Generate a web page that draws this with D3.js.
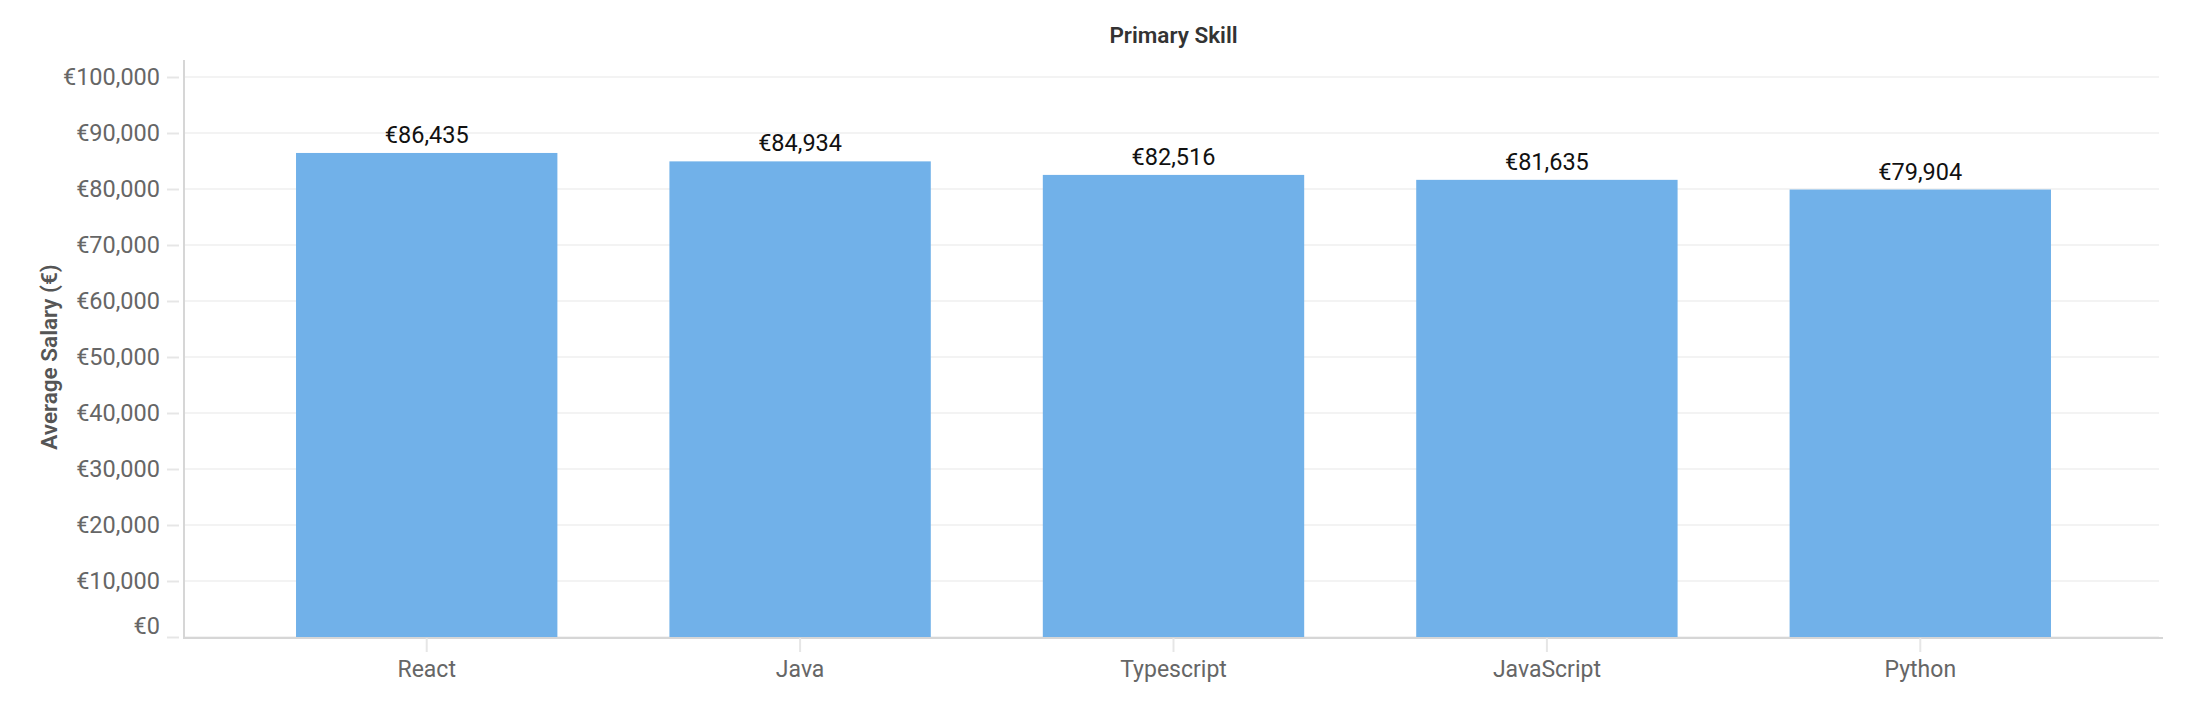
<!DOCTYPE html>
<html>
<head>
<meta charset="utf-8">
<script src="https://cdn.jsdelivr.net/npm/d3@7"></script>
<style>
 body { margin:0; background:#fff; }
 text { font-family: Roboto, "Noto Sans", sans-serif; }
</style>
</head>
<body>
<div id="chart"></div>
<script>
// chart data
var skills = ["React", "Java", "Typescript", "JavaScript", "Python"];
var salaries = [86435, 84934, 82516, 81635, 79904];
var yTicks = [0, 10000, 20000, 30000, 40000, 50000, 60000, 70000, 80000, 90000, 100000];

var W = 2186, H = 718;
var plotLeft = 184, plotRight = 2163, plotTop = 77, plotBottom = 637;
var euro = function(v){ return "€" + d3.format(",")(v); };

var svg = d3.select("#chart").append("svg")
 .attr("width", W).attr("height", H);

var x = d3.scaleBand().domain(skills).range([plotLeft, plotRight]).padding(0.3);
var y = d3.scaleLinear().domain([0, 100000]).range([plotBottom, plotTop]);

// gridlines
svg.append("g").selectAll("line")
 .data(yTicks).enter().append("line")
 .attr("x1", plotLeft).attr("x2", plotRight - 4)
 .attr("y1", function(d){ return y(d); })
 .attr("y2", function(d){ return y(d); })
 .attr("stroke", "#f3f3f3").attr("stroke-width", 2);

// y axis
var yAxis = svg.append("g")
 .attr("transform", "translate(" + (plotLeft - 5) + ",0)")
 .call(d3.axisLeft(y).tickValues(yTicks).tickFormat(euro).tickSize(12).tickPadding(7));
yAxis.select(".domain").remove();
yAxis.selectAll(".tick line").attr("stroke", "#e6e6e6").attr("stroke-width", 2);
yAxis.selectAll(".tick text")
 .attr("fill", "#666").style("font-size", "23.5px")
 .attr("dy", function(d){ return d === 0 ? "-0.15em" : "0.32em"; }); // bottom label sits a bit higher

svg.append("line")			//y axis line
 .attr("x1", plotLeft).attr("x2", plotLeft)
 .attr("y1", 60).attr("y2", plotBottom + 2)
 .attr("stroke", "#d6d6d6").attr("stroke-width", 2);

// bars
svg.append("g").selectAll("rect")
 .data(skills).enter().append("rect")
 .attr("x", function(d){ return x(d); })
 .attr("width", x.bandwidth())
 .attr("y", function(d,i){ return y(salaries[i]); })
 .attr("height", function(d,i){ return y(0) - y(salaries[i]); })
 .attr("fill", "#71b1e9");

// value labels
svg.append("g").selectAll("text")
 .data(skills).enter().append("text")
 .attr("x", function(d){ return x(d) + x.bandwidth()/2; })
 .attr("y", function(d,i){ return y(salaries[i]) - 10; })
 .attr("text-anchor", "middle")
 .style("font-size", "23.5px").attr("fill", "#111")
 .text(function(d,i){ return euro(salaries[i]); });

// x axis
var xAxis = svg.append("g")
 .attr("transform", "translate(0," + (plotBottom + 1) + ")")
 .call(d3.axisBottom(x).tickSize(14).tickPadding(9));
xAxis.select(".domain").attr("stroke", "#d6d6d6").attr("stroke-width", 2)
 .attr("d", "M" + plotLeft + ",0H" + plotRight);
xAxis.selectAll(".tick line").attr("stroke", "#e6e6e6").attr("stroke-width", 2);
xAxis.selectAll(".tick text").attr("fill", "#666").style("font-size", "23px");

// titles
svg.append("text")
 .attr("x", (plotLeft + plotRight) / 2).attr("y", 43)
 .attr("text-anchor", "middle")
 .style("font-size", "22.5px").style("font-weight", "600").attr("fill", "#333")
 .text("Primary Skill");

svg.append("text")
 .attr("transform", "translate(57," + ((plotTop + plotBottom) / 2) + ") rotate(-90)")
 .attr("text-anchor", "middle")
 .style("font-size", "22.5px").style("font-weight", "600").attr("fill", "#555")
 .text("Average Salary (€)");
</script>
</body>
</html>
